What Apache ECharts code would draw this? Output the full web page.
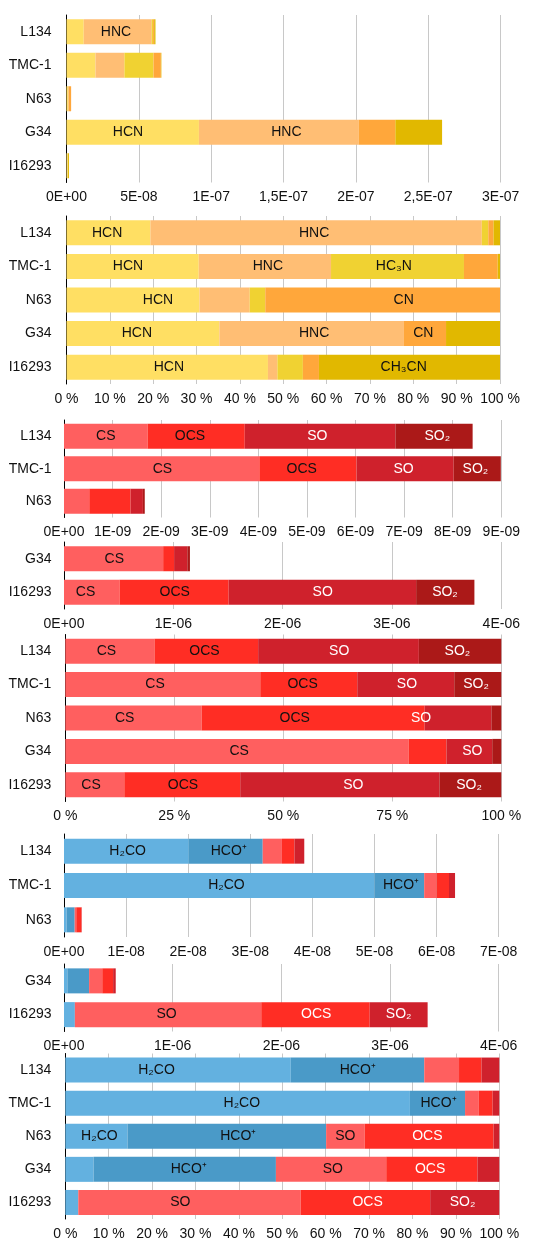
<!DOCTYPE html>
<html><head><meta charset="utf-8">
<script src="https://cdn.jsdelivr.net/npm/echarts@6/dist/echarts.min.js"></script>
<style>html,body{margin:0;padding:0;background:#fff}#c{width:534px;height:1241px}</style>
</head><body><div id="c"></div>
<script>
// ---------- categories ----------
const sources = ['L134', 'TMC-1', 'N63', 'G34', 'I16293'];

// ---------- nitrogen-bearing species (abundance) ----------
const HCN   = [11.9e-9, 20.0e-9, 0.98e-9,  91.5e-9, 0.79e-9];
const HNC   = [47.0e-9, 20.0e-9, 0.37e-9, 110.5e-9, 0.037e-9];
const HC3N  = [0.92e-9, 20.1e-9, 0.115e-9,  0,      0.10e-9];
const CN    = [0.74e-9,  5.1e-9, 1.73e-9,  25.2e-9, 0.063e-9];
const CH3CN = [0.92e-9, 0.35e-9, 0,        32.3e-9, 0.71e-9];

// ---------- sulfur-bearing species ----------
const CS  = [1.72e-9, 4.02e-9, 0.52e-9,  0.907e-6, 0.508e-6];
const OCS = [2.00e-9, 2.00e-9, 0.85e-9,  0.100e-6, 0.998e-6];
const SO  = [3.10e-9, 2.00e-9, 0.254e-9, 0.121e-6, 1.715e-6];
const SO2 = [1.59e-9, 0.97e-9, 0.038e-9, 0.024e-6, 0.533e-6];

// ---------- H2CO / HCO+ ----------
const H2CO = [2.01e-8, 5.0e-8, 0.041e-8, 0.031e-6, 0.10e-6];
const HCOp = [1.19e-8, 0.8e-8, 0.131e-8, 0.20e-6,  0];

// ---------- tick settings ----------
const absTicks1 = {max: 3e-7, interval: 5e-8};
const absTicks3 = {max: 9e-9, interval: 1e-9};
const absTicks4 = {max: 4e-6, interval: 1e-6};
const absTicks6 = {max: 7e-8, interval: 1e-8};
const absTicks7 = {max: 4e-6, interval: 1e-6};
const pctTicks10 = {max: 100, interval: 10};
const pctTicks25 = {max: 100, interval: 25};

const DATA = {HCN, HNC, HC3N, CN, CH3CN, CS, OCS, SO, SO2, H2CO, HCOp};
const DISPLAY = {HCN:'HCN', HNC:'HNC', HC3N:'HC\u2083N', CN:'CN', CH3CN:'CH\u2083CN',
  CS:'CS', OCS:'OCS', SO:'SO', SO2:'SO\u2082', H2CO:'H\u2082CO', HCOp:'HCO\u207A'};
const COLORS = {HCN:'#ffdf63', HNC:'#ffbe74', HC3N:'#f0d232', CN:'#ffa73b', CH3CN:'#e1b800',
  CS:'#ff5f5f', OCS:'#ff2d24', SO:'#cf212c', SO2:'#ab1918', H2CO:'#63b1e0', HCOp:'#4a9ac8'};

const nGroup = ['HCN','HNC','HC3N','CN','CH3CN'];
const sGroup = ['CS','OCS','SO','SO2'];
const oGroup = ['H2CO','HCOp','SO','OCS','SO2'];
// colours used for the last group (as in the reference)
const oColors = {H2CO:'#63b1e0', HCOp:'#4a9ac8', SO:'#ff5f5f', OCS:'#ff2d24', SO2:'#cf212c'};

const FONT = '"Liberation Sans", Arial, Helvetica, sans-serif';

function sci(v) {
  if (v === 0) return '0E+00';
  let e = Math.floor(Math.log10(v) + 1e-9);
  let m = Math.round(v / Math.pow(10, e) * 10) / 10;
  if (m >= 10) { m /= 10; e += 1; }
  return String(m).replace('.', ',') + 'E' + (e < 0 ? '-' : '+') + String(Math.abs(e)).padStart(2, '0');
}
function pct(v) { return v + ' %'; }

// label placement: [species, source, dx]
const panels = [
  {grid:{left:66.5, right:33.3, top:15, height:167.5}, cats:sources, group:nGroup, mode:'abs', ticks:absTicks1, ym:15,
   white:[], labels:[['HNC','L134',-1.7],['HCN','G34',-4.7],['HNC','G34',7.5]]},
  {grid:{left:66.5, right:34, top:216, height:168}, cats:sources, group:nGroup, mode:'pct', ticks:pctTicks10, ym:15,
   white:[], labels:[['HCN','L134',-1.3],['HNC','L134',-2],['HCN','TMC-1',-4.7],['HNC','TMC-1',3],['HC3N','TMC-1',-3.7],
   ['HCN','N63',25],['CN','N63',21],['HCN','G34',-6],['HNC','G34',2.5],['CN','G34',-1.7],['HCN','I16293',1.7],['CH3CN','I16293',-5.8]]},
  {grid:{left:64, right:32.7, top:420, height:97.5}, cats:sources.slice(0,3), group:sGroup, mode:'abs', ticks:absTicks3, ym:12.5,
   white:['SO','SO2'], labels:[['CS','L134',0],['OCS','L134',-6.2],['SO','L134',-2.7],['SO2','L134',3.3],
   ['CS','TMC-1',0.7],['OCS','TMC-1',-6.2],['SO','TMC-1',-1.5],['SO2','TMC-1',-1.8]]},
  {grid:{left:64, right:32.7, top:542, height:67}, cats:sources.slice(3), group:sGroup, mode:'abs', ticks:absTicks4, ym:12.5,
   white:['SO','SO2'], labels:[['CS','G34',0.7],['CS','I16293',-6.2],['OCS','I16293',0.7],['SO','I16293',0.3],['SO2','I16293',-0.3]]},
  {grid:{left:65.3, right:32.7, top:634.5, height:167}, cats:sources, group:sGroup, mode:'pct', ticks:pctTicks25, ym:14,
   white:['SO','SO2'], labels:[['CS','L134',-3.5],['OCS','L134',-1.8],['SO','L134',0.7],['SO2','L134',-2.7],
   ['CS','TMC-1',-7.7],['OCS','TMC-1',-6.2],['SO','TMC-1',1.2],['SO2','TMC-1',-1.7],
   ['CS','N63',-8.8],['OCS','N63',-18.5],['SO','N63',-37],['CS','G34',2.3],['SO','G34',3],
   ['CS','I16293',-3.8],['OCS','I16293',0.7],['SO','I16293',13.5],['SO2','I16293',-1.3]]},
  {grid:{left:64, right:35.3, top:834, height:103}, cats:sources.slice(0,3), group:oGroup, mode:'abs', ticks:absTicks6, ym:12.5, o:true,
   white:['OCS','SO2'], labels:[['H2CO','L134',1.2],['HCOp','L134',3],['H2CO','TMC-1',7.2],['HCOp','TMC-1',1.7]]},
  {grid:{left:64, right:35.3, top:964, height:67.5}, cats:sources.slice(3), group:oGroup, mode:'abs', ticks:absTicks7, ym:12.5, o:true,
   white:['OCS','SO2'], labels:[['SO','I16293',-1.5],['OCS','I16293',0.7],['SO2','I16293',0]]},
  {grid:{left:65.3, right:34.7, top:1053.5, height:166}, cats:sources, group:oGroup, mode:'pct', ticks:pctTicks10, ym:14, o:true,
   white:['OCS','SO2'], labels:[['H2CO','L134',-21.5],['HCOp','L134',0.3],['H2CO','TMC-1',4.2],['HCOp','TMC-1',1],
   ['H2CO','N63',3],['HCOp','N63',11.5],['SO','N63',0],['OCS','N63',-1.7],['HCOp','G34',4],['SO','G34',1.7],['OCS','G34',-1.7],
   ['SO','I16293',-9.2],['OCS','I16293',2.2],['SO2','I16293',-2.2]]}
];

const grids = [], xAxes = [], yAxes = [], series = [];
panels.forEach((p, pi) => {
  grids.push(Object.assign({containLabel:false}, p.grid));
  xAxes.push({
    type:'value', gridIndex:pi, min:0, max:p.ticks.max, interval:p.ticks.interval,
    axisLine:{show:false}, axisTick:{show:false},
    splitLine:{show:true, lineStyle:{color:'#c8c8c8', width:1}},
    axisLabel:{formatter: p.mode === 'pct' ? pct : sci, color:'#111', fontSize:14, fontFamily:FONT, margin:8}
  });
  yAxes.push({
    type:'category', gridIndex:pi, data:p.cats, inverse:true,
    axisLine:{show:true, lineStyle:{color:'#000', width:1}}, axisTick:{show:false},
    axisLabel:{color:'#111', fontSize:14, fontFamily:FONT, margin:p.ym}, splitLine:{show:false}
  });
  const idx = p.cats.map(c => sources.indexOf(c));
  const totals = idx.map(i => p.group.reduce((s, sp) => s + DATA[sp][i], 0));
  p.group.forEach(sp => {
    const data = idx.map((i, k) => {
      const v = p.mode === 'pct' ? DATA[sp][i] / totals[k] * 100 : DATA[sp][i];
      const lab = p.labels.find(l => l[0] === sp && l[1] === sources[i]);
      return lab ? {value:v, label:{show:true, offset:[lab[2], 0]}} : {value:v};
    });
    series.push({
      type:'bar', name:DISPLAY[sp], xAxisIndex:pi, yAxisIndex:pi, stack:'s' + pi, barWidth:25,
      itemStyle:{color: p.o ? oColors[sp] : COLORS[sp]},
      label:{show:false, position:'inside', formatter:DISPLAY[sp],
        color: p.white.includes(sp) ? '#fff' : '#111', fontSize:14, fontFamily:FONT},
      emphasis:{disabled:true}, data
    });
  });
});

const chart = echarts.init(document.getElementById('c'), null, {renderer:'canvas'});
chart.setOption({animation:false, backgroundColor:'#fff', grid:grids, xAxis:xAxes, yAxis:yAxes, series});
</script>
</body></html>
